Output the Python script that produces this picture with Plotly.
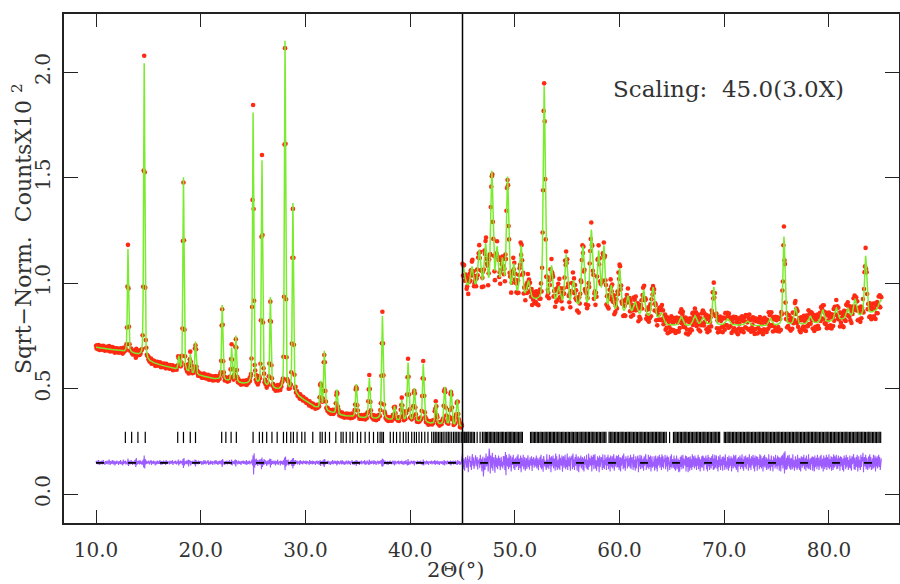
import numpy as np
import plotly.graph_objects as go

# ---- data (sqrt-normalised counts, x10^2) ----
# left half: 10-45 deg, right half: 45-85 deg shown with 3x scaling

# background anchors
bg_left_x = [10.0, 11.0, 12.0, 12.8, 13.6, 14.2, 15.0, 16.0, 17.0, 18.0, 19.0, 20.0,
             21.0, 22.0, 23.0, 24.0, 25.0, 26.0, 27.0, 28.0, 29.0, 29.6, 30.0, 30.6,
             31.5, 32.5, 33.5, 35.0, 36.5, 38.0, 39.5, 41.0, 42.5, 44.0, 45.0]
bg_left_y = [0.695, 0.688, 0.680, 0.672, 0.665, 0.655, 0.628, 0.612, 0.600, 0.585, 0.570, 0.560,
             0.548, 0.540, 0.530, 0.522, 0.515, 0.505, 0.495, 0.485, 0.470, 0.452, 0.440, 0.418,
             0.400, 0.385, 0.372, 0.362, 0.356, 0.350, 0.345, 0.338, 0.330, 0.322, 0.318]
bg_right_x = [45.0, 46.0, 47.0, 48.5, 50.0, 51.5, 53.0, 54.5, 56.0, 57.5, 59.0, 60.5, 62.0,
              63.5, 64.5, 66.0, 68.0, 70.0, 72.0, 74.0, 76.0, 78.0, 80.0, 82.0, 83.0, 84.0, 85.0]
bg_right_y = [0.985, 0.975, 0.965, 0.950, 0.935, 0.920, 0.905, 0.890, 0.880, 0.870, 0.860, 0.850, 0.840,
              0.830, 0.800, 0.795, 0.800, 0.800, 0.800, 0.795, 0.800, 0.805, 0.815, 0.830, 0.840, 0.855, 0.880]

# peaks: position (deg), height above background, fwhm (deg)
left_pos = [13.05, 14.6, 17.9, 18.35, 19.0, 19.5, 22.05, 22.95, 23.35, 25.0, 25.85, 26.65,
            28.05, 28.8, 31.45, 31.8, 33.0, 34.85, 36.1, 37.35, 38.5, 39.2, 39.8, 40.4,
            41.25, 42.45, 43.3, 43.9, 44.5]
left_height = [0.49, 1.40, 0.062, 0.92, 0.09, 0.155, 0.355, 0.16, 0.22, 1.29, 1.07, 0.43,
               1.66, 0.90, 0.13, 0.28, 0.115, 0.157, 0.19, 0.49, 0.067, 0.097, 0.277, 0.157,
               0.277, 0.10, 0.18, 0.17, 0.125]
left_fwhm = [0.13, 0.13, 0.15, 0.13, 0.15, 0.14, 0.14, 0.15, 0.14, 0.14, 0.14, 0.14,
             0.14, 0.14, 0.16, 0.16, 0.16, 0.17, 0.17, 0.17, 0.18, 0.18, 0.18, 0.18,
             0.18, 0.19, 0.19, 0.19, 0.20]

right_pos = [45.1, 45.9, 46.6, 47.2, 47.8, 48.3, 48.8, 49.3, 49.9, 50.6, 51.3, 52.8, 53.5,
             54.2, 54.9, 55.6, 56.5, 57.3, 58.0, 58.5, 59.2, 60.0, 60.8, 61.5, 62.3, 63.2,
             64.0, 65.9, 67.2, 68.0, 69.0, 70.3, 72.2, 74.4, 75.7, 76.8, 78.2, 79.4, 80.7,
             81.8, 82.5, 83.5, 84.9]
right_height = [0.085, 0.095, 0.18, 0.21, 0.56, 0.20, 0.15, 0.55, 0.14, 0.24, 0.08, 1.02, 0.17,
                0.08, 0.24, 0.12, 0.29, 0.37, 0.27, 0.30, 0.12, 0.21, 0.085, 0.06, 0.125, 0.145,
                0.04, 0.045, 0.045, 0.035, 0.18, 0.03, 0.02, 0.035, 0.42, 0.08, 0.035, 0.06, 0.06,
                0.05, 0.085, 0.28, 0.04]
right_fwhm = [0.3, 0.3, 0.3, 0.3, 0.25, 0.3, 0.3, 0.25, 0.3, 0.3, 0.35, 0.22, 0.3,
              0.35, 0.3, 0.35, 0.3, 0.3, 0.3, 0.3, 0.35, 0.3, 0.35, 0.4, 0.3, 0.3,
              0.4, 0.4, 0.4, 0.4, 0.25, 0.4, 0.4, 0.4, 0.22, 0.3, 0.4, 0.35, 0.35,
              0.35, 0.35, 0.25, 0.35]

# obs - calc residuals, 0.05 deg steps (left from 10.00, right from 45.00)
resid_left_unit = 0.0025
resid_right_unit = 0.0017
resid_left = [
    3, -2, 4, 1, -3, 5, 2, -4, 0, 3, -1, 4, -3, 2, 5, -2, 1, -4, 3, 0,
    -2, 4, 1, -3, 2, 6, -1, -4, 3, 1, -2, 5, 0, -3, 4, 2, -5, 1, 3, -2,
    4, -1, 2, -4, 3, 1, -2, 5, -3, 0, 2, -5, 6, -2, 3, -1, 4, -3, 1, 2,
    -3, 8, -6, 4, 2, -3, 1, 5, -2, 3, -4, 2, 0, 4, -3, 6, -8, 9, -4, 3,
    -2, 4, 1, -3, 5, -2, 3, 0, -4, 2, 6, -9, 14, -11, 7, -3, 4, -2, 1, 3,
    -1, 4, -3, 2, 0, 5, -4, 3, 1, -2, 4, -1, 3, -5, 2, 1, -3, 4, 0, -2,
    3, -2, 5, -1, -4, 2, 3, -3, 1, 4, -2, 0, 3, -4, 5, 1, -2, 3, -1, 2,
    -3, 4, 1, -2, 3, -1, 5, -4, 2, 0, 3, -2, 4, 1, -3, 2, -1, 6, -5, 3,
    -2, 4, -1, 3, 2, -4, 7, -10, 9, -5, 3, 1, -2, 4, -3, 2, 6, -7, 5, -1,
    4, -5, 3, 1, -2, 4, -1, 2, -3, 6, -7, 5, -2, 3, 0, -3, 4, 1, -2, 3,
    -1, 3, -4, 2, 1, -3, 5, -2, 0, 4, -3, 2, -1, 3, 5, -4, 1, 2, -3, 4,
    -2, 1, 3, -4, 2, 0, 4, -3, 1, 5, -2, 3, -1, -4, 2, 3, -2, 4, 1, -3,
    5, -8, 7, -3, 2, 1, -4, 3, -1, 2, 4, -3, 0, 3, -2, 5, -1, 2, -4, 6,
    -5, 3, 1, -2, 4, -3, 6, -7, 5, -1, 2, -3, 4, 0, -2, 3, 1, -4, 2, 3,
    -1, 4, -2, 3, 1, -3, 2, 5, -4, 1, 3, -2, 0, 4, -3, 2, -1, 3, 6, -5,
    14, -22, 18, -9, 6, -4, 8, -3, 5, -6, 4, -2, 6, -4, 3, 7, -12, 10, -8, 4,
    -4, 7, -3, 5, -2, 3, -6, 4, 1, -3, 5, -2, 8, -9, 7, -4, 3, -2, 4, 1,
    -3, 2, 4, -5, 3, 1, -2, 6, -4, 2, 0, 3, -5, 4, -2, 3, 1, -4, 5, -3,
    10, -14, 12, -7, 5, -4, 3, 6, -5, 2, -3, 4, -2, 5, -6, 8, -11, 9, -6, 4,
    -3, 5, -2, 1, 4, -3, 2, -1, 3, -4, 5, 1, -2, 3, 0, -3, 4, 2, -1, 3,
    -2, 4, -3, 1, 3, -1, 2, -4, 5, 0, -2, 3, 1, -3, 4, -2, 3, -1, 2, -4,
    3, -1, 4, -2, 1, 3, -4, 2, 5, -6, 3, -1, 2, 4, -5, 6, -8, 7, -3, 2,
    -1, 3, -2, 4, 1, -3, 2, 0, -4, 3, 1, -2, 5, -3, 2, -1, 4, -2, 3, 1,
    -5, 4, -2, 3, 1, -3, 2, 4, -1, -3, 5, -2, 3, 0, -4, 2, 1, -3, 4, -1,
    2, -3, 4, 1, -2, 3, -4, 2, 0, 5, -3, 1, 2, -4, 3, -1, 4, -6, 5, -2,
    3, -1, 2, -4, 3, 1, -2, 4, -3, 2, 0, 3, -2, 5, -4, 1, 2, -3, 4, -1,
    2, -4, 6, -3, 1, 3, -2, 4, -1, 2, -3, 5, -2, 1, 3, -4, 2, 0, 4, -3,
    1, 3, -2, 4, -1, 5, -7, 8, -7, 6, -3, 2, 4, -2, 1, -3, 3, 2, -4, 1,
    3, -2, 4, -1, 2, -3, 1, 4, -2, 3, -5, 4, 1, -3, 2, 0, 3, -2, 4, -3,
    2, -1, 3, -2, 4, -3, 1, 2, -4, 3, 1, -2, 5, -3, 2, -5, 7, -4, 2, 1,
    -3, 2, 4, -1, 3, -2, 1, 4, -5, 3, -1, 2, 0, -3, 4, 1, -2, 3, -1, 2,
    4, -3, 1, 2, -4, 6, -5, 3, -1, 2, -3, 4, 1, -2, 3, -4, 2, 0, 3, -2,
    1, 4, -3, 2, -1, 3, -2, 5, -4, 3, 1, -2, 4, -3, 2, 1, -4, 3, -1, 2,
    -2, 3, 1, -4, 2, 5, -5, 3, -1, 2, -3, 4, 0, -2, 3, 1, -3, 4, -5, 3,
    2, -1, 4, -3, 1, 3, -2, 4, -3, 2, -4, 5, -2, 1, 3, -4, 2, -3, 4, 1,
]
resid_right = [
    25, -18, 6, 12, -22, 3, 16, 8, -14, -5, 20, -26, 10, 2, 18, -12, 5, -20, 14, 24,
    -8, 15, -17, -3, 9, 21, -10, 4, 16, -19, 7, -2, 12, -15, 22, -6, 11, -24, 5, 17,
    -38, -12, 14, -20, 6, 26, -10, 3, 18, -24, 12, 40, 22, -30, 20, -6, -15, 28, -22, 10,
    16, -4, -28, 22, 8, -12, 14, -18, 2, 20, -9, 13, -21, 6, 17, -11, 3, -16, 19, -7,
    18, -20, 30, -35, 22, 5, -10, 14, -18, 25, -12, 8, 20, -24, -3, 15, -6, 22, -16, 10,
    -20, 14, 4, -12, 18, -8, 24, -20, 12, 6, -15, 20, -26, 14, -1, -10, 22, -18, 8, 16,
    -22, 9, 13, -17, 4, 21, -12, 7, -19, 15, 2, -8, 18, -23, 11, -5, 16, -14, 6, 12,
    -10, 20, -16, 3, 14, -21, 9, -6, 17, -13, 22, -18, 5, 11, -25, 19, 8, -10, 6, -8,
    -20, 24, -14, 10, 1, -18, 22, -8, 15, -26, 18, -10, 4, 20, -16, 12, 6, -22, 26, -12,
    18, -20, 7, 10, -16, 24, -20, 14, -3, -8, 20, -25, 12, 18, -14, 5, 22, -18, 8, -12,
    26, -20, 15, -2, -10, 18, -22, 14, 9, 20, -18, 26, -12, 10, -20, 16, -8, 24, 3, -22,
    12, 18, -26, 14, -10, 4, 20, -16, 8, 16, -20, 12, -24, 18, -5, 10, -14, 22, -18, 8,
    -20, 26, -12, 14, 1, -8, 20, -24, 16, -6, 22, -18, 12, 24, -16, 8, -22, 6, 18, -10,
    14, -26, 20, -12, 3, 16, 10, -20, 24, -14, 8, -18, 22, -7, 12, -20, 16, -8, 22, -18,
    10, 14, -24, 20, -4, -12, 18, -16, 8, 24, -22, 12, -10, 5, 20, -14, 18, -12, 22, -20,
    10, 16, -24, 14, -8, 2, 20, -18, 26, -14, 10, -22, 18, 6, 12, -16, 20, -10, -4, 14,
    -14, 22, -18, 10, 16, -3, -20, 24, -12, 8, -22, 18, -16, 4, 14, 20, -26, 12, -10, 22,
    -18, 16, 20, -16, 6, 12, -22, 18, -8, 14, 24, -20, 10, -2, -14, 22, -18, 16, -12, 20,
    -24, 8, 18, -14, 3, -10, 18, -22, 14, 20, -16, 12, -24, 18, -8, 5, 22, -14, 10, 16,
    -20, 24, -12, 18, -16, 10, 2, 22, -18, 14, -10, 20, -24, 16, 8, -6, -20, 18, -12, 24,
    -16, 10, 6, -14, 20, -18, 12, -22, 14, 20, -18, 4, 12, -26, 8, -24, 16, -12, 20, -18,
    10, 22, -16, 12, 3, -8, 20, -24, 18, -12, 14, -26, 16, 8, -22, 18, -14, 10, -20, 24,
    -12, 18, 4, -16, 20, -10, 14, -20, 12, -8, 22, -18, 16, 6, -24, 10, -12, 18, -14, 20,
    16, -22, 14, -6, 10, 20, -18, 12, -24, 22, -10, 16, -20, 3, 14, -16, 18, -8, 24, -20,
    12, -18, 22, -14, 2, 20, -16, 8, -24, 18, -12, 14, 22, -20, 10, -8, 16, -22, 18, -6,
    14, -20, 24, -12, 4, -18, 16, 10, -22, 20, -14, 12, -8, 18, -24, 14, 6, -16, 22, -10,
    18, -14, 22, -20, 8, 12, -26, 16, -10, 3, 20, -18, 14, -12, 24, -16, 10, -22, 18, 6,
    -12, 20, -18, 14, -4, 16, -22, 10, 24, -14, 12, -20, 18, -8, 2, 22, -16, 14, -24, 20,
    -10, 12, 18, -22, 16, -6, 10, -18, 24, -12, 20, -16, 4, 14, -24, 18, -10, 22, -14, 8,
    16, -20, 12, 2, -18, 24, -14, 10, -22, 16, 20, -12, 8, -24, 18, -6, 14, -16, 22, -10,
    12, -18, 20, -8, 16, -22, 14, 10, -24, 18, -6, 22, -16, 12, 28, -30, 32, -12, -20, 14,
    -18, 20, -10, 6, 22, -16, 12, -20, 14, 4, -18, 24, -12, 8, -22, 16, 18, -14, 10, -20,
    22, -16, 4, 14, -20, 12, -24, 18, 10, -14, 16, -8, 22, -18, 6, 14, -22, 20, -12, 10,
    -16, 24, -18, 8, 12, -20, 14, -4, 18, -22, 16, 10, -24, 20, -12, 6, 14, -18, 22, -10,
    14, -20, 8, 18, -10, 22, -16, 4, 12, -24, 20, 8, -18, 14, -12, 22, -20, 16, 2, -14,
    24, -18, 10, -12, 18, -22, 16, 6, -20, 24, -14, 18, -10, 2, 22, -18, 12, -16, 20, -8,
    14, -22, 18, -10, 16, 4, -20, 12, -24, 20, -6, 14, -18, 22, -12, 10, 16, -20, 8, -14,
    20, -16, 12, -22, 18, -4, 10, 24, -18, 14, -20, 6, 16, -12, 22, -24, 10, 18, -14, 8,
    -20, 22, -12, 16, 4, 28, -26, 10, 16, -10, 22, -18, 14, -6, -20, 10, 18, -16, 24, -12,
    16, -20, 8, 12, -18, 22, -14, 6, 20, -24, 14, -10, 18, -16, 4, 22, -12, 16, -20, 10,
    12,
]

# reflection marker positions (deg)
hkl_ticks = [
    12.8, 13.4, 14.0, 14.7, 17.8, 18.35, 19.0, 19.5, 22.0, 22.4, 22.9, 23.4,
    25.0, 25.6, 25.9, 26.3, 26.8, 27.3, 27.9, 28.2, 28.6, 28.85, 29.2, 29.65, 29.95,
    30.7, 31.4, 31.6, 31.9, 32.3, 32.9, 33.4, 33.6, 33.9, 34.26, 34.52, 34.96, 35.28,
    35.7, 36.1, 36.5, 36.9, 37.13, 37.3, 37.45, 38.1, 38.4, 38.7, 39.03, 39.35, 39.6,
    39.83, 40.15, 40.4, 40.6, 40.85, 41.1, 41.4, 41.7, 42.06, 42.25, 42.4, 42.55, 42.7,
    42.85, 43.0, 43.15, 43.33, 43.5, 43.65, 43.8, 43.97, 44.15, 44.3, 44.45, 44.6, 44.75, 44.93,
    45.05, 45.17, 45.26, 45.4, 45.52, 45.6, 45.74, 45.88, 46.02, 46.15, 46.4, 46.68, 46.9,
    47.05, 47.18, 47.3, 47.41, 47.55, 47.66, 47.8, 47.93, 48.06, 48.2, 48.31, 48.44, 48.58, 48.7, 48.83, 48.95,
    49.1, 49.22, 49.35, 49.47, 49.6, 49.72, 49.85, 49.97, 50.1, 50.22, 50.35, 50.48, 50.6, 50.72,
    51.5, 51.62, 51.75, 51.88, 52.0, 52.14, 52.26, 52.4, 52.52, 52.65, 52.78, 52.9,
    53.04, 53.16, 53.3, 53.42, 53.55, 53.68, 53.8, 53.94, 54.06, 54.2, 54.32, 54.45, 54.58, 54.7, 54.84, 54.96,
    55.1, 55.22, 55.36, 55.48, 55.6, 55.74, 55.86, 55.98, 56.12, 56.24, 56.38, 56.5, 56.62, 56.76, 56.88,
    57.02, 57.14, 57.28, 57.4, 57.54, 57.66, 57.8, 57.92, 58.06, 58.18, 58.32, 58.44, 58.58, 58.7,
    59.0, 59.12, 59.26, 59.38, 59.52, 59.64, 59.78, 59.9, 60.04, 60.16, 60.3, 60.42, 60.56, 60.68, 60.82, 60.94,
    61.08, 61.2, 61.34, 61.46, 61.6, 61.72, 61.86, 61.98, 62.12, 62.24, 62.38, 62.5, 62.64, 62.76, 62.9,
    63.02, 63.16, 63.28, 63.42, 63.54, 63.68, 63.8, 63.94, 64.06, 64.2, 64.32, 64.46, 64.78,
    65.15, 65.28, 65.4, 65.54, 65.66, 65.8, 65.92, 66.06, 66.18, 66.32, 66.44, 66.58, 66.7, 66.84, 66.96,
    67.1, 67.22, 67.36, 67.48, 67.62, 67.74, 67.88, 68.0, 68.14, 68.26, 68.4, 68.52, 68.66, 68.78, 68.92,
    69.04, 69.18, 69.3, 69.44, 69.56, 70.0, 70.12, 70.26, 70.38, 70.52, 70.64, 70.78, 70.9,
    71.04, 71.16, 71.3, 71.42, 71.56, 71.68, 71.82, 71.94, 72.08, 72.2, 72.34, 72.46, 72.6, 72.72, 72.86, 72.98,
    73.12, 73.24, 73.38, 73.5, 73.64, 73.76, 73.9, 74.02, 74.16, 74.28, 74.42, 74.54, 74.68, 74.8, 74.94,
    75.06, 75.2, 75.32, 75.46, 75.58, 75.72, 75.84, 75.98, 76.1, 76.24, 76.36, 76.5, 76.62, 76.76, 76.88,
    77.02, 77.14, 77.28, 77.4, 77.54, 77.66, 77.8, 77.92, 78.06, 78.18, 78.32, 78.44, 78.58, 78.7, 78.84, 78.96,
    79.1, 79.22, 79.36, 79.48, 79.62, 79.74, 79.88, 80.0, 80.14, 80.26, 80.4, 80.52, 80.66, 80.78, 80.92,
    81.04, 81.18, 81.3, 81.44, 81.56, 81.7, 81.82, 81.96, 82.08, 82.22, 82.34, 82.48, 82.6, 82.74, 82.86, 82.98,
    83.12, 83.24, 83.38, 83.5, 83.64, 83.76, 83.9, 84.02, 84.16, 84.28, 84.42, 84.54, 84.68, 84.8, 84.94,
]

tick_level = 0.268   # where the reflection markers sit
diff_level = 0.148   # offset of the difference curve
split_at = 45.0      # start of the 3x scaled region


def calc_profile(x, pos, height, fwhm, bg_x, bg_y, eta=0.35):
    # pseudo-Voigt peaks on top of an interpolated background
    y = np.interp(x, bg_x, bg_y)
    for p, h, w in zip(pos, height, fwhm):
        d = (x - p) / w
        y = y + h * (eta / (1 + 4 * d ** 2) + (1 - eta) * np.exp(-4 * np.log(2) * d ** 2))
    return y


# observed grid / fine grid for the calculated curve
x_obs_l = 10.0 + 0.05 * np.arange(len(resid_left))
x_obs_r = 45.0 + 0.05 * np.arange(len(resid_right))
x_fine_l = np.linspace(10.0, 45.0, 3501)
x_fine_r = np.linspace(45.0, 85.0, 4001)

calc_l = calc_profile(x_fine_l, left_pos, left_height, left_fwhm, bg_left_x, bg_left_y)
calc_r = calc_profile(x_fine_r, right_pos, right_height, right_fwhm, bg_right_x, bg_right_y)
diff_l = np.array(resid_left) * resid_left_unit
diff_r = np.array(resid_right) * resid_right_unit
obs_l = calc_profile(x_obs_l, left_pos, left_height, left_fwhm, bg_left_x, bg_left_y) + diff_l
obs_r = calc_profile(x_obs_r, right_pos, right_height, right_fwhm, bg_right_x, bg_right_y) + diff_r

x_obs = np.concatenate([x_obs_l, x_obs_r])
y_obs = np.concatenate([obs_l, obs_r])
x_calc = np.concatenate([x_fine_l, [None], x_fine_r])
y_calc = np.concatenate([calc_l, [None], calc_r])
y_diff = np.concatenate([diff_l, diff_r]) + diff_level

FONT = "DejaVu Serif"
TXT = "#333333"

fig = go.Figure()

# observed points
fig.add_trace(go.Scatter(x=x_obs, y=y_obs, mode="markers",
                         marker=dict(color="#ff2a12", size=4.6, line=dict(width=0)),
                         showlegend=False))
# calculated curve
fig.add_trace(go.Scatter(x=x_calc, y=y_calc, mode="lines",
                         line=dict(color="#7aec2e", width=1.5), showlegend=False))
# reflection markers
fig.add_trace(go.Scatter(x=hkl_ticks, y=[tick_level] * len(hkl_ticks), mode="markers",
                         marker=dict(symbol="line-ns", size=8, line=dict(color="black", width=1.2)),
                         showlegend=False))
# difference curve
fig.add_trace(go.Scatter(x=x_obs, y=y_diff, mode="lines",
                         line=dict(color="#9d5cff", width=1.1), showlegend=False))
# zero line of the difference curve (long dashes over the residuals)
fig.add_trace(go.Scatter(x=[10.0, 85.0], y=[diff_level, diff_level], mode="lines",
                         line=dict(color="black", width=1.8, dash="8px,24px"), showlegend=False))

# split marker at 45 deg
fig.add_shape(type="line", x0=split_at, x1=split_at, y0=0, y1=1, yref="paper",
              line=dict(color="black", width=1.5))

fig.add_annotation(x=70.4, y=1.92, text="Scaling:  45.0(3.0X)", showarrow=False,
                   xanchor="center", yanchor="middle",
                   font=dict(family=FONT, size=23, color=TXT))
fig.add_annotation(x=-0.0505, xref="paper", y=1.26, text="Sqrt\u2212Norm.  CountsX10 <sup>2</sup>",
                   textangle=-90, showarrow=False, xanchor="center", yanchor="middle",
                   font=dict(family=FONT, size=22, color=TXT))
fig.add_annotation(x=44.3, y=-0.092, yref="paper", text="2\u0398(\u00b0)", showarrow=False,
                   xanchor="center", yanchor="middle",
                   font=dict(family=FONT, size=21, color=TXT))

fig.update_layout(
    width=900, height=584,
    margin=dict(l=64, r=1, t=14, b=61, autoexpand=False),
    plot_bgcolor="white", paper_bgcolor="white",
    showlegend=False,
)
fig.update_xaxes(range=[6.94, 86.69], tick0=10, dtick=10, tickformat=".1f",
                 ticks="inside", ticklen=13, tickwidth=1.3, tickcolor="#222",
                 showline=True, linecolor="#222", linewidth=1.6, mirror="ticks",
                 showgrid=False, zeroline=False, ticklabelstandoff=8, automargin=False,
                 tickfont=dict(family=FONT, size=20, color=TXT))
fig.update_yaxes(range=[-0.1374, 2.275], tick0=0, dtick=0.5, tickformat=".1f",
                 ticks="inside", ticklen=14, tickwidth=1.3, tickcolor="#222",
                 showline=True, linecolor="#222", linewidth=1.6, mirror="ticks",
                 showgrid=False, zeroline=False, tickangle=-90, ticklabelstandoff=4,
                 automargin=False,
                 tickfont=dict(family=FONT, size=20, color=TXT))

# the page's default body margin would shift the figure by 8px
fig.write_html("out.html", config={"displayModeBar": False},
               post_script="document.body.style.margin='0px';")
